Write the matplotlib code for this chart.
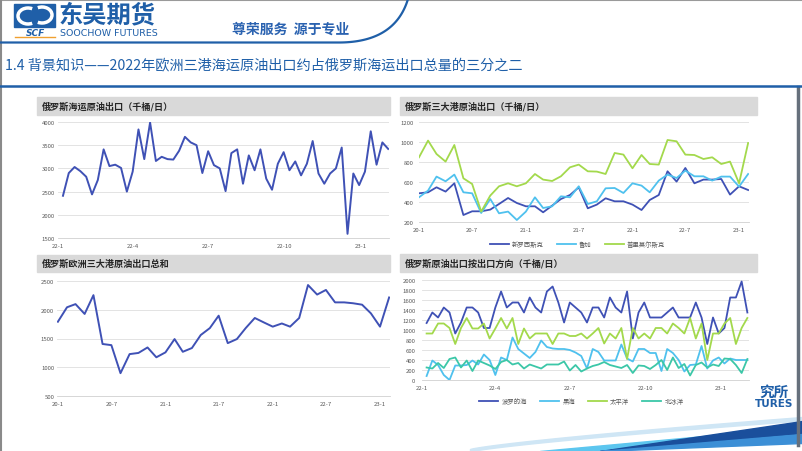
import numpy as np
import pandas as pd
import matplotlib
matplotlib.use('Agg')
import matplotlib.pyplot as plt
from matplotlib.patches import Rectangle, Arc

plt.rcParams['font.family'] = ['Noto Sans CJK SC', 'DejaVu Sans']

# ---- 数据 ----
# 俄罗斯海运原油出口（千桶/日），周度 22-1 ~ 23-2
seaborne = [2410, 2900, 3030, 2940, 2820, 2440, 2750, 3410, 3050, 3080, 3010, 2500,
            2930, 3840, 3200, 3990, 3160, 3250, 3200, 3190, 3380, 3680, 3560, 3500,
            2900, 3370, 3070, 3000, 2510, 3330, 3410, 2670, 3280, 2960, 3410, 2780,
            2540, 3100, 3350, 2960, 3150, 2850, 3100, 3590, 2890, 2670, 2890, 3000,
            3450, 1590, 2890, 2640, 2930, 3800, 3080, 3560, 3420]

# 俄罗斯三大港原油出口（千桶/日），月度 20-1 ~ 23-2
novoross = [490, 500, 550, 507, 590, 273, 310, 310, 327, 383, 443, 393, 360, 360, 300,
            367, 433, 473, 550, 340, 377, 440, 410, 410, 377, 323, 423, 473, 710, 607,
            743, 590, 627, 627, 633, 477, 560, 523]
ustluga = [450, 517, 657, 610, 677, 500, 490, 293, 433, 290, 307, 223, 307, 450, 343,
           360, 460, 450, 560, 383, 410, 540, 543, 493, 590, 567, 500, 617, 677, 643,
           717, 660, 660, 617, 657, 657, 557, 683]
primorsk = [850, 1017, 883, 807, 973, 640, 583, 307, 467, 560, 590, 560, 590, 683, 627,
            613, 660, 750, 777, 710, 707, 683, 893, 877, 740, 873, 783, 777, 1023, 1010,
            877, 873, 833, 850, 783, 807, 590, 993]

# 俄罗斯欧洲三大港原油出口总和
ports_total = [1790, 2040, 2095, 1925, 2250, 1405, 1385, 900, 1230, 1250, 1345, 1175,
               1260, 1490, 1270, 1335, 1560, 1680, 1895, 1420, 1490, 1680, 1855, 1780,
               1705, 1760, 1705, 1855, 2425, 2260, 2340, 2125, 2125, 2110, 2085, 1935,
               1705, 2210]

# 俄罗斯原油出口按出口方向（千桶/日），周度
baltic = [1140, 1350, 1250, 1450, 1350, 930, 1150, 1450, 1450, 1350, 1040, 1040, 1450,
          1770, 1450, 1550, 1550, 1350, 1650, 1450, 1350, 1770, 1870, 1550, 1150, 1550,
          1450, 1350, 1150, 1450, 1450, 1250, 1650, 1450, 1350, 1770, 830, 1350, 1550,
          1250, 1250, 1250, 1350, 1450, 1250, 1250, 1250, 1550, 1250, 720, 1250, 930,
          1040, 1650, 1650, 1970, 1350]
blacksea = [80, 390, 300, 100, 0, 290, 290, 300, 390, 310, 510, 400, 100, 450, 400, 850,
            620, 530, 440, 560, 790, 660, 630, 620, 620, 600, 550, 480, 230, 620, 560,
            390, 390, 390, 710, 430, 370, 620, 620, 540, 540, 180, 620, 540, 400, 170,
            300, 310, 680, 230, 390, 450, 330, 430, 400, 400, 400]
pacific = [930, 930, 1130, 1130, 1040, 720, 1040, 1240, 1030, 1030, 1130, 830, 1030,
           1240, 1030, 1240, 720, 1030, 830, 930, 930, 930, 720, 930, 930, 880, 880, 930,
           830, 930, 1040, 730, 930, 830, 1040, 420, 1040, 830, 930, 830, 1040, 1040, 930,
           1130, 1040, 930, 1240, 830, 1130, 400, 930, 930, 1130, 1240, 720, 1040, 1240]
arctic = [250, 230, 340, 240, 420, 450, 250, 390, 180, 390, 340, 290, 220, 360, 400, 310,
          340, 230, 310, 270, 230, 310, 310, 310, 370, 190, 300, 170, 230, 280, 310, 360,
          300, 270, 240, 300, 140, 290, 280, 220, 300, 400, 200, 450, 240, 320, 90, 300,
          350, 250, 310, 280, 430, 420, 300, 140, 420]

weeks = pd.date_range('2022-01-07', periods=len(seaborne), freq='7D')
months = pd.date_range('2020-01-01', periods=len(novoross), freq='MS')

week_ticks = ['2022-01-01', '2022-04-01', '2022-07-01', '2022-10-01', '2023-01-01']
week_labels = ['22-1', '22-4', '22-7', '22-10', '23-1']
month_ticks = ['2020-01-01', '2020-07-01', '2021-01-01', '2021-07-01', '2022-01-01',
               '2022-07-01', '2023-01-01']
month_labels = ['20-1', '20-7', '21-1', '21-7', '22-1', '22-7', '23-1']

DARK = '#3f51b5'
LIGHT = '#4fc1ee'
GREEN = '#a3d94c'
TEAL = '#3cc7a8'
BLUE = '#1f5fa8'

W, H = 802, 452
fig = plt.figure(figsize=(8.02, 4.52), dpi=100)

# 背景/版式层（像素坐标）
bg = fig.add_axes([0, 0, 1, 1])
bg.set_xlim(0, W)
bg.set_ylim(H, 0)
bg.axis('off')

# 边框
bg.plot([0, W], [0.8, 0.8], color='#9a9a9a', lw=1.5)
bg.plot([0.8, 0.8], [0, H], color='#8a8a8a', lw=1.5)
bg.plot([798, 798], [88, 446], color='#66707c', lw=2.5)

# logo
bg.add_patch(Rectangle((14, 5), 41, 23, color=BLUE))
bg.add_patch(Arc((28, 17), 20, 16, theta1=60, theta2=300, color='white', lw=2.5))
bg.add_patch(Arc((42, 16), 20, 16, theta1=240, theta2=480, color='white', lw=2.5))
bg.text(35, 33, 'SCF', color=BLUE, fontsize=6.5, fontweight='bold', style='italic',
        ha='center', va='center', family='DejaVu Sans')
bg.plot([15, 55], [37.5, 37.5], color='#f0a030', lw=1)
bg.text(59, 15, '东吴期货', color=BLUE, fontsize=17.5, fontweight='bold', va='center')
bg.text(60, 34, 'SOOCHOW FUTURES', color=BLUE, fontsize=6.8, va='center',
        family='DejaVu Sans')
bg.text(232, 30, '尊荣服务  源于专业', color='#2a62b0', fontsize=10, fontweight='bold',
        va='center')

# 抬头曲线
t = np.linspace(0, 1, 50)
cx = (1 - t) ** 2 * 340 + 2 * (1 - t) * t * 395 + t ** 2 * 408
cy = (1 - t) ** 2 * 43.5 + 2 * (1 - t) * t * 43 + t ** 2 * 0
bg.plot(np.r_[0, cx], np.r_[43.5, cy], color=BLUE, lw=1.6)

# 标题
bg.text(5, 65, '1.4 背景知识——2022年欧洲三港海运原油出口约占俄罗斯海运出口总量的三分之二',
        color=BLUE, fontsize=10.2, va='center')
bg.plot([0, W], [87, 87], color=BLUE, lw=1.8)

# 图表标题灰条
panels = [(37, 98, 390, 116, '俄罗斯海运原油出口（千桶/日）'),
          (400, 98, 757, 116, '俄罗斯三大港原油出口（千桶/日）'),
          (37, 256, 390, 273, '俄罗斯欧洲三大港原油出口总和'),
          (400, 255, 757, 273, '俄罗斯原油出口按出口方向（千桶/日）')]
for x0, y0, x1, y1, title in panels:
    bg.add_patch(Rectangle((x0, y0), x1 - x0, y1 - y0, color='#d9d9d9'))
    bg.text(x0 + 5, (y0 + y1) / 2, title, fontsize=6.6, fontweight='bold',
            color='#262626', va='center')

# 右下角装饰
xs = np.linspace(470, W, 200)
u = (xs - 470) / (W - 470)
bg.fill_between(xs, 450 - 32 * u ** 0.8, 452.5 - 31 * u ** 0.8, color='#cfe6f5')
xs2 = np.linspace(540, W, 200)
u2 = (xs2 - 540) / (W - 540)
bg.fill_between(xs2, 452 - 24 * u2, 455 - 18 * u2, color='#5cc6ef')
xs3 = np.linspace(600, W, 200)
u3 = (xs3 - 600) / (W - 600)
bg.fill_between(xs3, 452 - 30 * u3, 452 - 18 * u3, color='#1a4f9c')
bg.fill_between(xs3, 452 - 17 * u3, 452 - 8 * u3, color='#3c8fd6')
bg.text(774, 392, '究所', color=BLUE, fontsize=10.5, fontweight='bold',
        ha='center', va='center')
bg.text(774, 404, 'TURES', color=BLUE, fontsize=7.5, fontweight='bold',
        ha='center', va='center', family='DejaVu Sans')


def ax_at(x0, y0, x1, y1):
    return fig.add_axes([x0 / W, 1 - y1 / H, (x1 - x0) / W, (y1 - y0) / H])


def style(ax, ylim, step, ticks, labels, xlim, ypad):
    ax.set_ylim(*ylim)
    ax.set_yticks(np.arange(ylim[0], ylim[1] + 1, step))
    ax.set_xlim(pd.Timestamp(xlim[0]), pd.Timestamp(xlim[1]))
    ax.set_xticks(pd.to_datetime(ticks))
    ax.set_xticklabels(labels)
    ax.grid(axis='y', color='#dedede', lw=0.6)
    ax.set_axisbelow(True)
    for s in ax.spines.values():
        s.set_visible(False)
    ax.spines['bottom'].set_visible(True)
    ax.spines['bottom'].set_color('#d0d0d0')
    ax.spines['bottom'].set_linewidth(0.6)
    ax.tick_params(axis='both', length=0, labelsize=4.3, labelcolor='#595959')
    ax.tick_params(axis='x', pad=3.5)
    ax.tick_params(axis='y', pad=ypad)
    ax.patch.set_alpha(0)


# 左上
ax1 = ax_at(58, 123, 389, 239)
ax1.plot(weeks, seaborne, color=DARK, lw=1.4)
style(ax1, (1500, 4000), 500, week_ticks, week_labels, ('2022-01-01', '2023-02-04'), 2)

# 右上
ax2 = ax_at(419, 123.3, 749, 223.3)
ax2.plot(months, novoross, color=DARK, lw=1.3, label='新罗西斯克')
ax2.plot(months, ustluga, color=LIGHT, lw=1.3, label='鲁加')
ax2.plot(months, primorsk, color=GREEN, lw=1.3, label='普里莫尔斯克')
style(ax2, (200, 1200), 200, month_ticks, month_labels, ('2020-01-01', '2023-02-04'), 4)
ax2.legend(loc='center', bbox_to_anchor=(0.48, -0.22), ncol=3, frameon=False,
           fontsize=4.6, labelcolor='#595959', handlelength=3, columnspacing=2,
           handletextpad=0.5)

# 左下
ax3 = ax_at(57, 281.7, 390, 397.3)
ax3.plot(months, ports_total, color=DARK, lw=1.4)
style(ax3, (500, 2500), 500, month_ticks, month_labels, ('2019-12-29', '2023-02-04'), 2)

# 右下
ax4 = ax_at(421.7, 281, 749, 381)
ax4.plot(weeks, baltic, color=DARK, lw=1.3, label='波罗的海')
ax4.plot(weeks, blacksea, color=LIGHT, lw=1.3, label='黑海')
ax4.plot(weeks, pacific, color=GREEN, lw=1.3, label='太平洋')
ax4.plot(weeks, arctic, color=TEAL, lw=1.3, label='北冰洋')
style(ax4, (0, 2000), 200, week_ticks, week_labels, ('2022-01-01', '2023-02-05'), 4.5)
ax4.legend(loc='center', bbox_to_anchor=(0.488, -0.21), ncol=4, frameon=False,
           fontsize=4.6, labelcolor='#595959', handlelength=3, columnspacing=2,
           handletextpad=0.5)

fig.savefig('out.png', dpi=100)
